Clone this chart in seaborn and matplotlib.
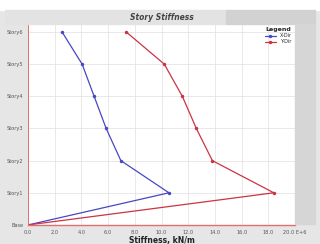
import matplotlib
matplotlib.use("Agg")
import matplotlib.pyplot as plt
import seaborn as sn
import pandas as pd
import numpy as np

stories = ['Base', 'Story1', 'Story2', 'Story3', 'Story4', 'Story5', 'Story6']
x_dir = [0.0, 10.55, 6.95, 5.85, 4.95, 4.05, 2.55]
y_dir = [0.0, 18.4, 13.8, 12.6, 11.55, 10.2, 7.35]
x_ticks = [0, 2, 4, 6, 8, 10, 12, 14, 16, 18, 20]

level = np.arange(len(stories))
df = pd.DataFrame({
    'stiffness': x_dir + y_dir,
    'level': list(level) * 2,
    'dir': ['X-Dir'] * len(stories) + ['Y-Dir'] * len(stories),
})

sn.set_style('whitegrid')
plt.rcParams['font.family'] = ['DejaVu Sans']

fig = plt.figure(figsize=(3.2, 2.44), dpi=100)
fig.patch.set_facecolor('#e6e6e6')

# header band with the title, darker panel on the right
fig.patches.append(plt.Rectangle((0, 0.957), 1, 0.043, transform=fig.transFigure,
                                 color='white', zorder=0))
fig.patches.append(plt.Rectangle((0.015, 0.9), 0.69, 0.057, transform=fig.transFigure,
                                 color='#e3e3e3', zorder=0))
fig.patches.append(plt.Rectangle((0.705, 0.9), 0.28, 0.057, transform=fig.transFigure,
                                 color='#d2d2d2', zorder=0))
fig.patches.append(plt.Rectangle((0.922, 0.08), 0.063, 0.82, transform=fig.transFigure,
                                 color='#d6d6d6', zorder=0))
fig.text(0.506, 0.928, 'Story Stiffness', ha='center', va='center', fontsize=5.5,
         style='italic', fontweight='bold', color='#444444')

ax = fig.add_axes([0.0875, 0.078, 0.835, 0.824])
ax.set_facecolor('white')

sn.lineplot(data=df, x='stiffness', y='level', hue='dir', sort=False,
            palette={'X-Dir': '#4848c0', 'Y-Dir': '#cc3344'},
            marker='o', markersize=2.5, markeredgewidth=0, linewidth=0.9, ax=ax)

ax.set_xlim(0, 20)
ax.set_ylim(0, 6.25)
ax.set_xticks(x_ticks)
ax.set_xticklabels(['%.1f' % t for t in x_ticks[:-1]] + ['20.0 E+6'])
ax.set_yticks(level)
ax.set_yticklabels(stories)
ax.tick_params(labelsize=3.6, colors='#555555', length=2, width=0.5, pad=1.5)
ax.grid(True, color='#e0e0e0', linewidth=0.5)

for side in ['top', 'right']:
    ax.spines[side].set_visible(False)
ax.spines['left'].set_color('#e07070')
ax.spines['bottom'].set_color('#e07070')
ax.spines['left'].set_linewidth(0.7)
ax.spines['bottom'].set_linewidth(1.0)

ax.set_xlabel('Stiffness, kN/m', fontsize=5.5, fontweight='bold', color='#222222', labelpad=1)
ax.set_ylabel('')

leg = ax.legend(title='Legend', loc='upper right', frameon=False, fontsize=3.5,
                title_fontsize=4.5, handlelength=2.2, borderaxespad=0.3,
                labelspacing=0.2)
leg.get_title().set_fontweight('bold')

fig.savefig('out.png', dpi=100, facecolor=fig.get_facecolor())
